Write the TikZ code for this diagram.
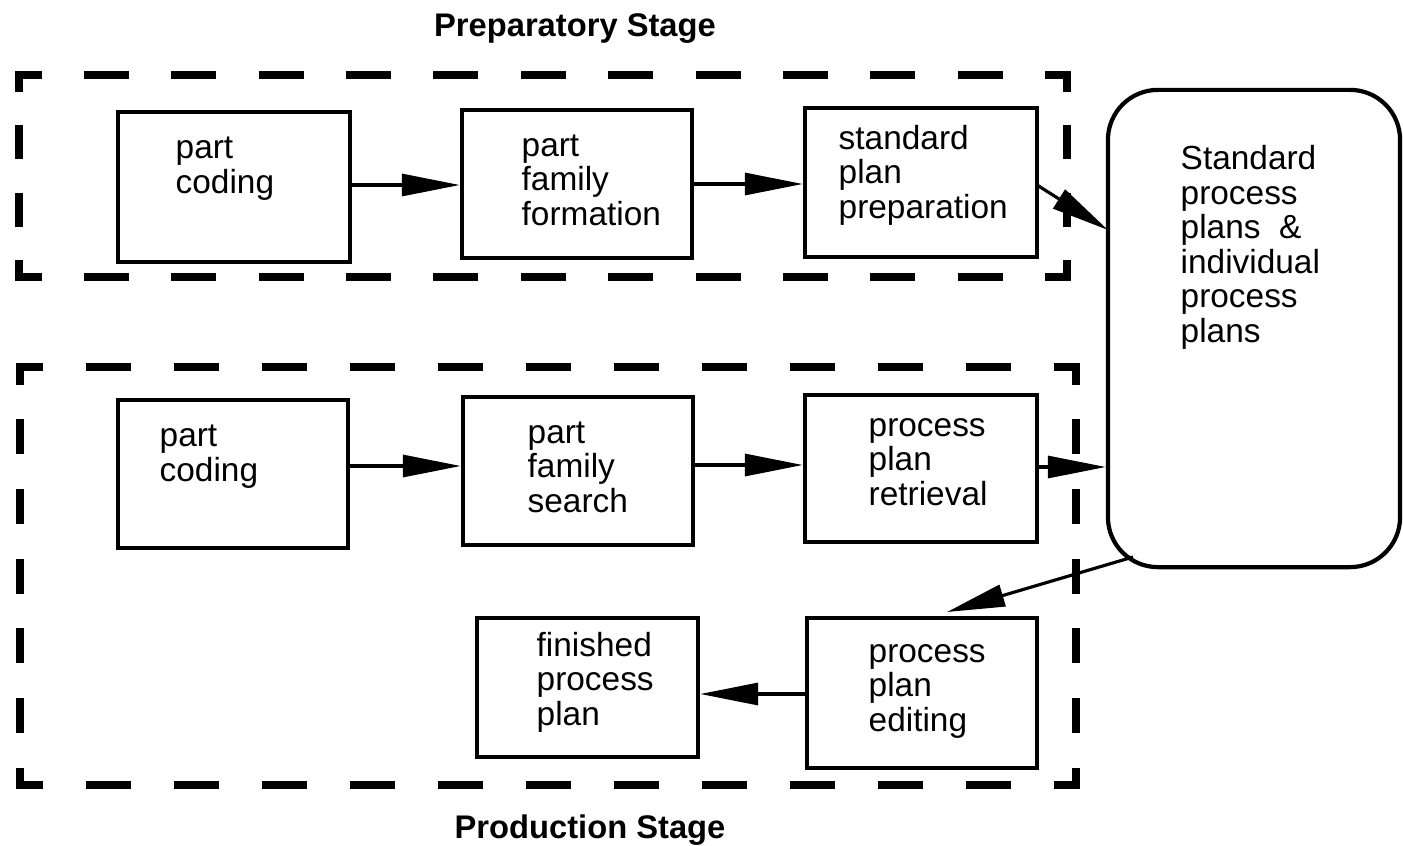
\documentclass[tikz,border=0pt]{standalone}
\usepackage{fontspec}
\setmainfont{Liberation Sans}
\usetikzlibrary{arrows.meta}
\tikzset{
  procbox/.style={draw, line width=1.2pt, rectangle, inner sep=0pt},
  boxtext/.style={anchor=base west, align=left, inner sep=0pt, font=\fontsize{9.5}{9.8}\selectfont},
  stagebox/.style={draw, line width=2pt, line cap=rect},
  hdashA/.style={stagebox, dash pattern=on 0.38cm off 0.4933cm, dash phase=0.19cm},
  vdashA/.style={stagebox, dash pattern=on 0.27cm off 0.4033cm, dash phase=0.135cm},
  hdashB/.style={stagebox, dash pattern=on 0.38cm off 0.50cm, dash phase=0.19cm},
  vdashB/.style={stagebox, dash pattern=on 0.28cm off 0.4167cm, dash phase=0.14cm},
  flow/.style={line width=0.9pt, -{Triangle[length=0.58cm, width=0.22cm]}},
  stagetitle/.style={anchor=base, inner sep=0pt, font=\fontsize{9.3}{10}\selectfont\bfseries},
}
\begin{document}
\begin{tikzpicture}[x=0.01cm, y=-0.01cm]
\useasboundingbox (0,0) rectangle (1403,845);
% stage frames
\coordinate (pTL) at (19,75);  \coordinate (pTR) at (1067,75);
\coordinate (pBR) at (1067,277); \coordinate (pBL) at (19,277);
\draw[hdashA] (pTL) -- (pTR);
\draw[hdashA] (pBL) -- (pBR);
\draw[vdashA] (pTL) -- (pBL);
\draw[vdashA] (pTR) -- (pBR);
\coordinate (qTL) at (20,367);  \coordinate (qTR) at (1076,367);
\coordinate (qBR) at (1076,785); \coordinate (qBL) at (20,785);
\draw[hdashB] (qTL) -- (qTR);
\draw[hdashB] (qBL) -- (qBR);
\draw[vdashB] (qTL) -- (qBL);
\draw[vdashB] (qTR) -- (qBR);
\node[stagetitle] (t1) at (575,36) {Preparatory Stage};
\node[stagetitle] (t2) at (590,838) {Production Stage};
% boxes
\node[procbox, minimum width=2.32cm, minimum height=1.50cm] (a1) at (234,187) {};
\node[procbox, minimum width=2.30cm, minimum height=1.48cm] (a2) at (577,184) {};
\node[procbox, minimum width=2.32cm, minimum height=1.49cm] (a3) at (921,182.5) {};
\node[procbox, minimum width=2.30cm, minimum height=1.48cm] (b1) at (233,474) {};
\node[procbox, minimum width=2.30cm, minimum height=1.48cm] (b2) at (578,471) {};
\node[procbox, minimum width=2.32cm, minimum height=1.47cm] (b3) at (921,468.5) {};
\node[procbox, minimum width=2.21cm, minimum height=1.39cm] (c2) at (587.5,687.5) {};
\node[procbox, minimum width=2.30cm, minimum height=1.50cm] (c3) at (922,693) {};
\node[draw, line width=1.2pt, rectangle, rounded corners=0.5cm, inner sep=0pt,
      minimum width=2.92cm, minimum height=4.77cm] (sp) at (1254,328.5) {};
% texts (anchor = baseline of the last line)
\node[boxtext] (ta1) at (175,193) {part\\coding};
\node[boxtext] (ta2) at (521,225) {part\\family\\formation};
\node[boxtext] (ta3) at (838,218) {standard\\plan\\preparation};
\node[boxtext] (tb1) at (159,481) {part\\coding};
\node[boxtext] (tb2) at (527,512) {part\\family\\search};
\node[boxtext] (tb3) at (868,505) {process\\plan\\retrieval};
\node[boxtext] (tc2) at (536,725) {finished\\process\\plan};
\node[boxtext] (tc3) at (868,731) {process\\plan\\editing};
\node[boxtext] (tsp) at (1180,342) {Standard\\process\\plans~~\&\\individual\\process\\plans};
% connectors
\coordinate (a3out) at (1037,185);
\coordinate (spin1) at (1108,230);
\coordinate (spout) at (1133,557);
\coordinate (c3in) at (947,612);
\draw[flow] (a1.east |- 0,185) -- (a2.west |- 0,185);
\draw[flow] (a2.east |- 0,184) -- (a3.west |- 0,184);
\draw[flow] (a3out) -- (spin1);
\draw[flow] (b1.east |- 0,466) -- (b2.west |- 0,466);
\draw[flow] (b2.east |- 0,465) -- (b3.west |- 0,465);
\draw[flow] (b3.east |- 0,467) -- (sp.west |- 0,467);
\draw[flow] (spout) -- (c3in);
\draw[flow] (c3.west |- 0,694) -- (c2.east |- 0,694);
\end{tikzpicture}
\end{document}
